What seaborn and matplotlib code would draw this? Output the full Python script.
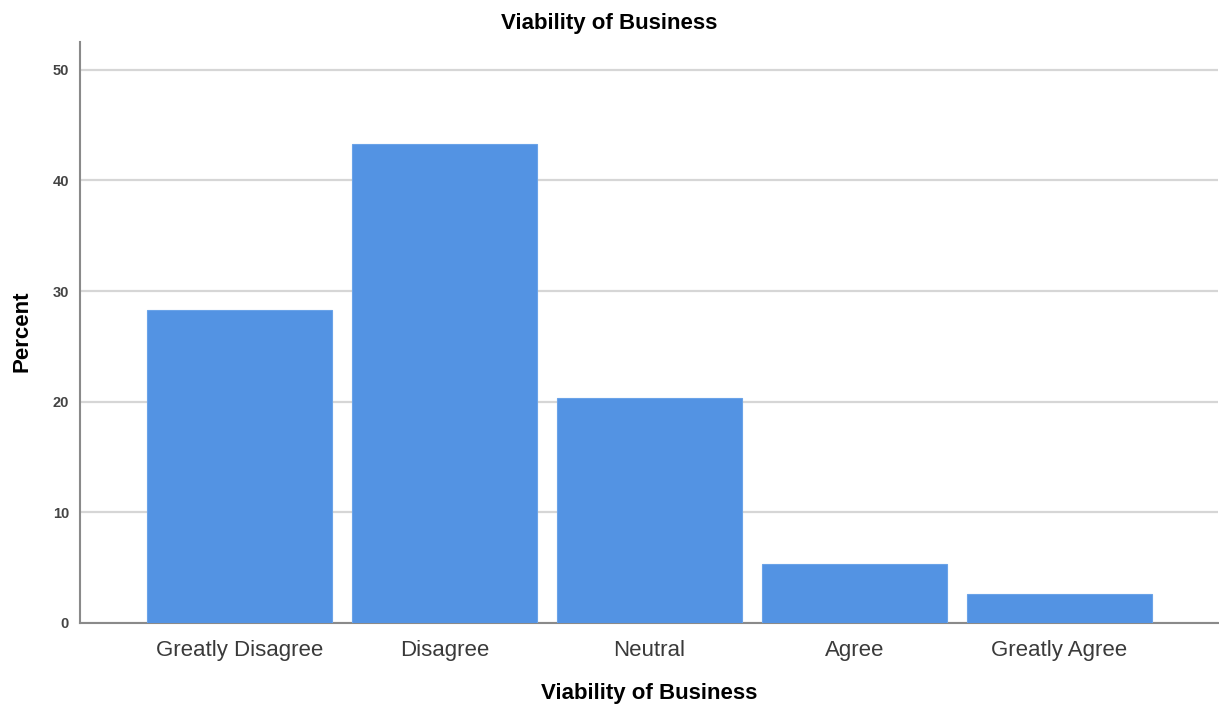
import matplotlib
matplotlib.use("Agg")
import matplotlib.pyplot as plt
import seaborn as sns
import pandas as pd

categories = ["Greatly Disagree", "Disagree", "Neutral", "Agree", "Greatly Agree"]
percent = [28.3, 43.3, 20.3, 5.3, 2.6]
yticks = [0, 10, 20, 30, 40, 50]

sns.set_theme(style="white")
plt.rcParams['font.family'] = ['Liberation Sans', 'DejaVu Sans']

df = pd.DataFrame({"cat": categories, "pct": percent})

fig = plt.figure(figsize=(12.19, 7.05), dpi=100)
ax = fig.add_axes([80/1219, 82/705, (1218-80)/1219, (623-42)/705])

sns.barplot(data=df, x="cat", y="pct", color="#5393E3", saturation=1, width=0.9,
            ax=ax, zorder=3, edgecolor="#6aa3e8", linewidth=0.8)

ax.set_ylim(0, 52.5)
ax.set_xlim(-0.778, 4.773)
ax.set_yticks(yticks)
ax.set_yticklabels([str(t) for t in yticks], fontsize=10.5, color="#444444",
                   fontweight="bold")
ax.tick_params(axis="y", length=0, pad=8)
ax.tick_params(axis="x", length=0, pad=12, labelsize=16, labelcolor="#3a3a3a")
ax.yaxis.grid(True, color="#d6d6d6", linewidth=1.6, zorder=0)
ax.set_axisbelow(True)
for s in ["top", "right"]:
    ax.spines[s].set_visible(False)
for s in ["left", "bottom"]:
    ax.spines[s].set_color("#8a8a8a")
    ax.spines[s].set_linewidth(1.5)
ax.set_xlabel("")
ax.set_ylabel("")

fig.text(609.5/1219, 1 - 23/705, "Viability of Business", ha="center", va="center",
         fontsize=16, fontweight="bold", color="black")
fig.text(649.5/1219, 1 - 693/705, "Viability of Business", ha="center", va="center",
         fontsize=16, fontweight="bold", color="black")
fig.text(22/1219, 1 - 331/705, "Percent", ha="center", va="center", rotation=90,
         fontsize=16, fontweight="bold", color="black")

fig.savefig("out.png", dpi=100)
